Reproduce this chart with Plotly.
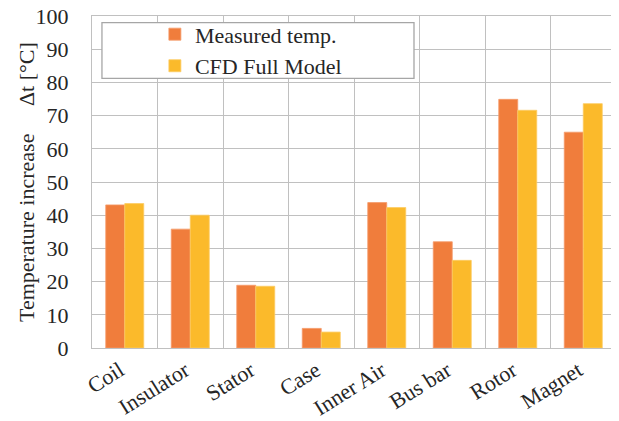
import plotly.graph_objects as go

categories = ["Coil", "Insulator", "Stator", "Case", "Inner Air", "Bus bar", "Rotor", "Magnet"]
measured = [43.1, 35.8, 18.9, 5.9, 43.8, 32.0, 74.9, 65.0]
cfd = [43.5, 40.0, 18.6, 4.8, 42.3, 26.4, 71.6, 73.6]
y_ticks = [0, 10, 20, 30, 40, 50, 60, 70, 80, 90, 100]

FONT = "Liberation Serif"
TXT = "#262626"
GRID = "#c0c0c0"

fig = go.Figure()
fig.add_trace(go.Bar(x=categories, y=measured, name="Measured temp.",
                     marker=dict(color="#F07D3C", line=dict(color="#F59A6A", width=0.8))))
fig.add_trace(go.Bar(x=categories, y=cfd, name="CFD Full Model",
                     marker=dict(color="#FBBA2B", line=dict(color="#FCCB63", width=0.8))))

fig.add_shape(type="rect", xref="paper", yref="paper", x0=0.019, x1=0.6145, y0=0.812, y1=0.980,
              fillcolor="white", line=dict(color="#a6a6a6", width=1.3), layer="above")

fig.add_annotation(xref="paper", yref="paper", x=0, y=0.5, xshift=-66, xanchor="center", yanchor="middle",
                   textangle=-90, showarrow=False,
                   text="Temperature increase" + "\u00a0" * 5 + "Δt [°C]",
                   font=dict(family=FONT, size=22, color=TXT))

fig.update_layout(
    width=611, height=413,
    margin=dict(l=84, r=3, t=8, b=73),
    paper_bgcolor="white", plot_bgcolor="white",
    font=dict(family=FONT, size=22, color=TXT),
    barmode="group", bargap=0.42, bargroupgap=0,
    showlegend=True,
    legend=dict(x=0.12, y=1.008, xanchor="left", yanchor="top",
                bgcolor="rgba(0,0,0,0)", borderwidth=0,
                font=dict(family=FONT, size=22, color=TXT), tracegroupgap=0),
    xaxis=dict(tickangle=-32, tickson="boundaries", showgrid=True, gridcolor=GRID, gridwidth=1.3,
               showline=True, linecolor=GRID, linewidth=1.3, mirror=True, ticks="",
               automargin=False, ticklabelshift=-5,
               tickfont=dict(family=FONT, size=22, color=TXT)),
    yaxis=dict(range=[0, 100], tickvals=y_ticks, showgrid=True, gridcolor=GRID, gridwidth=1.3,
               showline=True, linecolor=GRID, linewidth=1.3, mirror=True, ticks="",
               ticklabelstandoff=18, zeroline=False, automargin=False, ticklabeloverflow="allow",
               tickfont=dict(family=FONT, size=22, color=TXT)),
)

fig.write_html("out.html")
